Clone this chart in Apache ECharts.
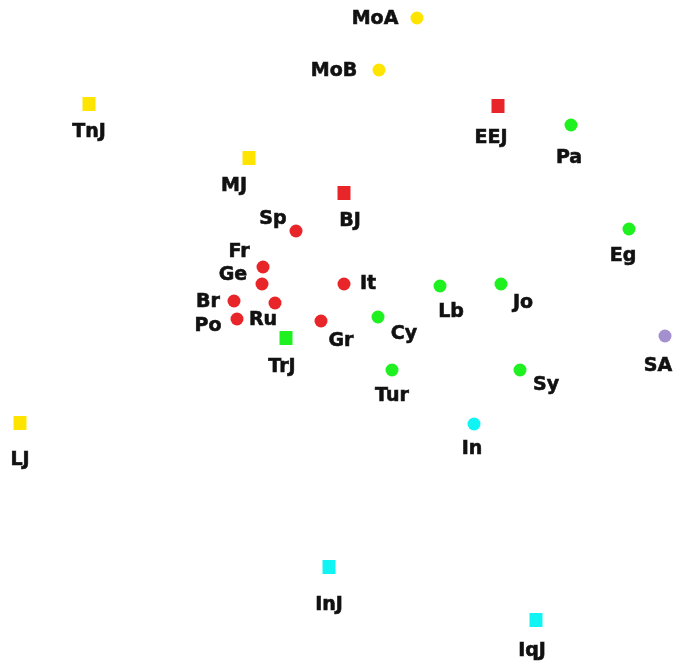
<!DOCTYPE html>
<html>
<head>
<meta charset="utf-8">
<script src="https://cdn.jsdelivr.net/npm/echarts@6/dist/echarts.min.js"></script>
<style>html,body{margin:0;padding:0;background:#fff;}#c{width:687px;height:661px;}</style>
</head>
<body>
<div id="c"></div>
<script>
// Point names and coordinates (arbitrary units, y grows downward)
const yellowSquares = [['TnJ', 89, 104], ['MJ', 249, 158], ['LJ', 20, 423]];
const yellowCircles = [['MoA', 417, 18], ['MoB', 379, 70]];
const redSquares = [['EEJ', 498, 106], ['BJ', 344, 193]];
const redCircles = [['Sp', 296, 231], ['Fr', 263, 267], ['Ge', 262, 284], ['Br', 234, 301],
                    ['Ru', 275, 303], ['Po', 237, 319], ['It', 344, 284], ['Gr', 321, 321]];
const greenSquares = [['TrJ', 286, 338]];
const greenCircles = [['Pa', 571, 125], ['Eg', 629, 229], ['Lb', 440, 286], ['Jo', 501, 284],
                      ['Cy', 378, 317], ['Tur', 392, 370], ['Sy', 520, 370]];
const cyanCircles = [['In', 474, 424]];
const cyanSquares = [['InJ', 329, 567], ['IqJ', 536, 620]];
const purpleCircles = [['SA', 665, 336]];

// label placement (style): offset of label centre from marker centre
const labelOffset = {
  MoA: [-42, 0], MoB: [-45, 0], TnJ: [0, 27], EEJ: [-7, 31], Pa: [-2, 32], MJ: [-15, 27],
  BJ: [6, 27], Sp: [-23, -13], Fr: [-24, -16], Ge: [-29, -10], Br: [-26, 0], Po: [-29, 6],
  Ru: [-12, 16], It: [24, -1], Gr: [20, 19], TrJ: [-4, 28], Cy: [26, 16], Lb: [11, 25],
  Jo: [22, 18], Eg: [-6, 26], SA: [-7, 29], Tur: [0, 25], Sy: [26, 14], In: [-2, 24],
  LJ: [0, 36], InJ: [0, 37], IqJ: [-4, 30]
};
const LABEL_DY = 1.5;

const COLORS = { yellow: '#ffe400', red: '#e8262a', green: '#1ff01f', cyan: '#10f4f4', purple: '#a48fcf' };

function makeSeries(arr, color, shape) {
  return {
    type: 'scatter',
    symbol: shape === 'square' ? 'rect' : 'circle',
    symbolSize: shape === 'square' ? [13, 14] : 13,
    itemStyle: { color: color, opacity: 1 },
    data: arr.map(d => {
      const off = labelOffset[d[0]] || [0, 25];
      return {
        name: d[0],
        value: [d[1], d[2]],
        label: {
          show: true,
          position: 'inside',
          offset: [off[0], off[1] + LABEL_DY],
          formatter: d[0],
          color: '#111111',
          fontFamily: 'DejaVu Sans',
          fontWeight: 'bold',
          fontSize: 19,
          textBorderColor: '#111111',
          textBorderWidth: 0.6,
          align: 'center',
          verticalAlign: 'middle'
        }
      };
    }),
    emphasis: { disabled: true },
    silent: true,
    animation: false
  };
}

const chart = echarts.init(document.getElementById('c'), null, { renderer: 'canvas' });
chart.setOption({
  backgroundColor: '#ffffff',
  animation: false,
  grid: { left: 0, right: 0, top: 0, bottom: 0 },
  xAxis: { type: 'value', min: 0, max: 687, show: false },
  yAxis: { type: 'value', min: 0, max: 661, inverse: true, show: false },
  series: [
    makeSeries(yellowSquares, COLORS.yellow, 'square'),
    makeSeries(yellowCircles, COLORS.yellow, 'circle'),
    makeSeries(redSquares, COLORS.red, 'square'),
    makeSeries(redCircles, COLORS.red, 'circle'),
    makeSeries(greenSquares, COLORS.green, 'square'),
    makeSeries(greenCircles, COLORS.green, 'circle'),
    makeSeries(cyanCircles, COLORS.cyan, 'circle'),
    makeSeries(cyanSquares, COLORS.cyan, 'square'),
    makeSeries(purpleCircles, COLORS.purple, 'circle')
  ]
});
</script>
</body>
</html>
